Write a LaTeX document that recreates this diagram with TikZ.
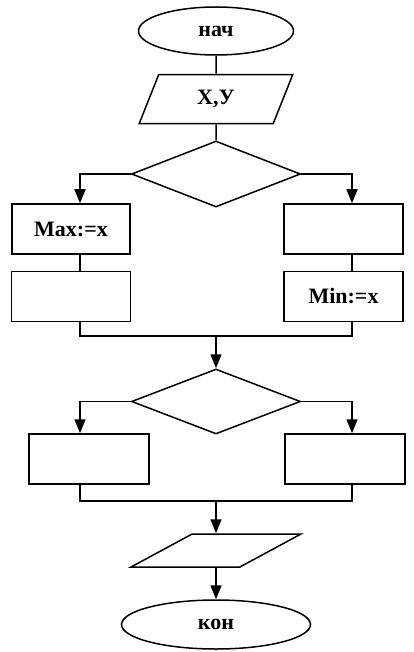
\documentclass[tikz,border=0pt]{standalone}
\usepackage{fontspec}
\setmainfont{Liberation Serif}
\usetikzlibrary{shapes.geometric,arrows.meta,positioning}

\begin{document}
\begin{tikzpicture}[
    x=1pt, y=-1pt,
    node distance=16pt,
    every node/.style={line width=1.5pt, font=\bfseries\fontsize{22}{26}\selectfont},
    term/.style={ellipse, draw, inner sep=0pt},
    io/.style={trapezium, draw, trapezium stretches=true, inner sep=2pt},
    cond/.style={diamond, draw, minimum width=169pt, minimum height=66pt, inner sep=0pt},
    block/.style={rectangle, draw, minimum height=50pt, inner sep=0pt},
    line/.style={line width=1.5pt},
    arr/.style={line, -{Triangle[length=14pt,width=11pt]}}
]
\useasboundingbox (0,0) rectangle (414,652);

\node[term, minimum width=155pt, minimum height=48pt] (start) at (216,31) {нач};
\node[io, below=18pt of start, trapezium left angle=72, trapezium right angle=108, minimum width=154pt, minimum height=49pt] (input) {Х,У};
\node[cond, below=of input] (dec1) {};
\node[block, minimum width=118pt] (max) at (71,229) {Max:=x};
\node[block, minimum width=119pt, below=of max] (left2) {};
\node[block, minimum width=119pt] (right1) at (343.5,229) {};
\node[block, minimum width=119pt, below=of right1] (min) {Min:=x};
\node[cond, minimum height=65pt] (dec2) at (216,401.5) {};
\node[block, minimum width=120pt] (left3) at (89,459) {};
\node[block, minimum width=120pt] (right3) at (345,459) {};
\node[io, trapezium left angle=38, trapezium right angle=142, minimum width=170pt, minimum height=33pt] (output) at (216,550.5) {};
\node[term, minimum width=189pt, minimum height=49pt] (stop) at (216,624.5) {кон};

\coordinate (lcol) at (80,0);
\coordinate (rcol) at (352,0);
\coordinate (join1) at (216,336);
\coordinate (join2) at (216,501);

\draw[line] (start) -- (input);
\draw[line] (input) -- (dec1);
\draw[arr] (dec1.west) -| (lcol |- max.north);
\draw[arr] (dec1.east) -| (rcol |- right1.north);
\draw[line] (lcol |- max.south) -- (lcol |- left2.north);
\draw[line] (rcol |- right1.south) -- (rcol |- min.north);
\draw[line] (lcol |- left2.south) |- (join1) -| (rcol |- min.south);
\draw[arr] (join1) -- (dec2);
\draw[arr] (dec2.west) -| (lcol |- left3.north);
\draw[arr] (dec2.east) -| (rcol |- right3.north);
\draw[line] (lcol |- left3.south) |- (join2) -| (rcol |- right3.south);
\draw[arr] (join2) -- (output);
\draw[arr] (output) -- (stop);

\end{tikzpicture}
\end{document}
